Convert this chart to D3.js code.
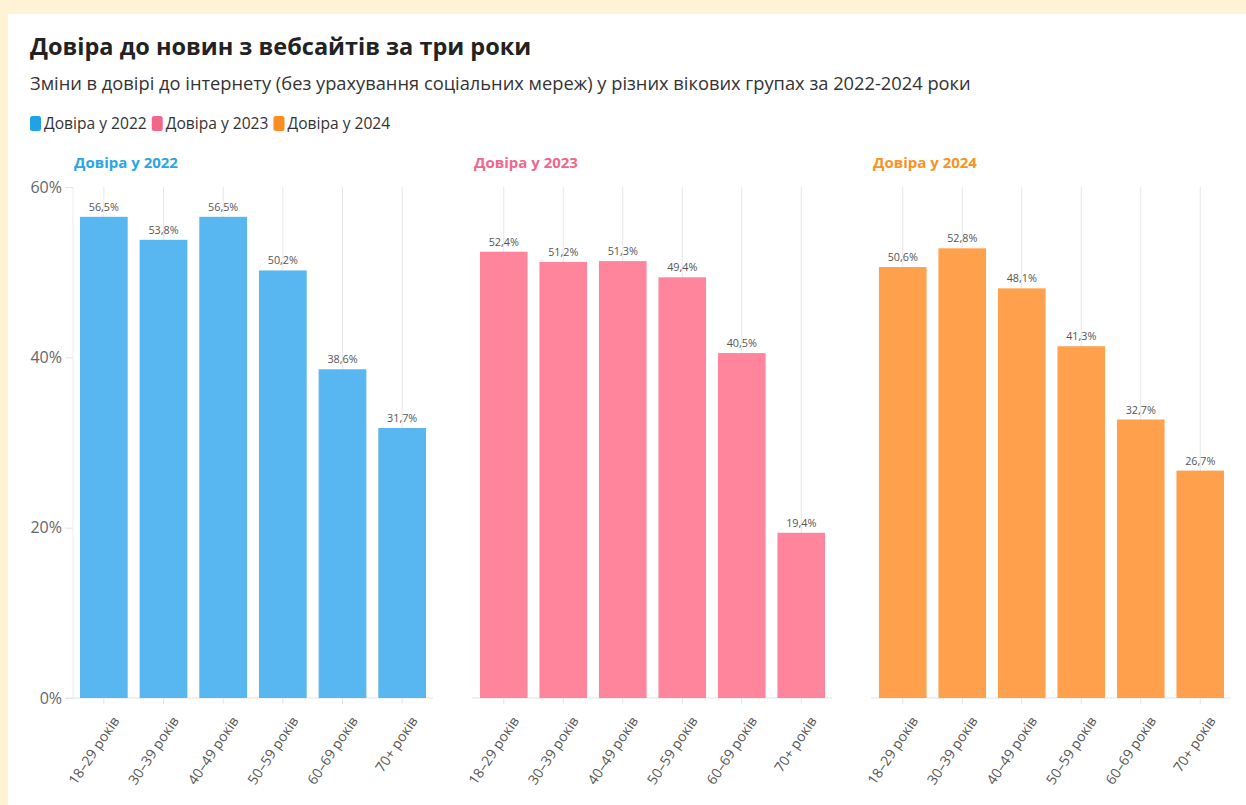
<!DOCTYPE html>
<html>
<head>
<meta charset="utf-8">
<script src="https://cdn.jsdelivr.net/npm/d3@7"></script>
<style>
  body { margin: 0; background: #fff3d6; font-family: "Open Sans", "Noto Sans", sans-serif; }
  #card { position: absolute; left: 8px; top: 14px; width: 1238px; height: 791px; background: #fff; }
</style>
</head>
<body>
<div id="card"></div>
<svg id="chart" width="1246" height="805" style="position:absolute;left:0;top:0"></svg>
<script>
const ageGroups = ["18–29 років", "30–39 років", "40–49 років", "50–59 років", "60–69 років", "70+ років"];
const seriesNames = ["Довіра у 2022", "Довіра у 2023", "Довіра у 2024"];
const trust2022 = [56.5, 53.8, 56.5, 50.2, 38.6, 31.7];
const trust2023 = [52.4, 51.2, 51.3, 49.4, 40.5, 19.4];
const trust2024 = [50.6, 52.8, 48.1, 41.3, 32.7, 26.7];
const yTicks = [0, 20, 40, 60];

const legendColors = ["#1ea3e6", "#f2668a", "#ff8c1f"];
const titleColors = ["#2aa7e2", "#f0668c", "#f7941f"];
const barColors = ["#58b7f0", "#ff859c", "#ffa04c"];
const font = "'Open Sans', 'Noto Sans', sans-serif";

const svg = d3.select("#chart").attr("font-family", font);

svg.append("text")
  .attr("x", 30).attr("y", 55)
  .attr("font-size", 23.5).attr("font-weight", 700).attr("fill", "#222")
  .text("Довіра до новин з вебсайтів за три роки");

svg.append("text")
  .attr("x", 30).attr("y", 90)
  .attr("font-size", 18.3).attr("fill", "#333")
  .text("Зміни в довірі до інтернету (без урахування соціальних мереж) у різних вікових групах за 2022-2024 роки");

// legend
const legend = svg.append("g").attr("transform", "translate(30,116)");
let lx = 0;
seriesNames.forEach((name, i) => {
  const g = legend.append("g").attr("transform", `translate(${lx},0)`);
  g.append("rect").attr("width", 11).attr("height", 15).attr("rx", 2.5).attr("fill", legendColors[i]);
  const t = g.append("text").attr("x", 14).attr("y", 13).attr("font-size", 15.6).attr("fill", "#333").text(name);
  lx += 14 + t.node().getComputedTextLength() + 5;
});

const y = d3.scaleLinear().domain([0, 60]).range([698, 187]);
const panels = [
  { data: trust2022, x0: 74, x1: 432 },
  { data: trust2023, x0: 474, x1: 831 },
  { data: trust2024, x0: 873, x1: 1230 }
];

panels.forEach((p, i) => {
  const x = d3.scaleBand().domain(ageGroups).range([p.x0, p.x1]).paddingInner(0.2).paddingOuter(0.1);
  const g = svg.append("g");

  g.append("text")
    .attr("x", p.x0).attr("y", 168)
    .attr("font-size", 15).attr("font-weight", 700).attr("fill", titleColors[i])
    .text(seriesNames[i]);

  // vertical grid at band centers
  g.selectAll(".grid").data(ageGroups).join("line")
    .attr("x1", d => x(d) + x.bandwidth() / 2).attr("x2", d => x(d) + x.bandwidth() / 2)
    .attr("y1", y(60)).attr("y2", y(0))
    .attr("stroke", "#e6e6e6");

  g.append("line")
    .attr("x1", i === 0 ? 66 : p.x0 - 2).attr("x2", p.x1 + 1)
    .attr("y1", y(0)).attr("y2", y(0))
    .attr("stroke", "#e3e3e3");

  g.selectAll(".bar").data(p.data).join("rect")
    .attr("x", (d, j) => x(ageGroups[j]))
    .attr("width", x.bandwidth())
    .attr("y", d => y(d))
    .attr("height", d => y(0) - y(d))
    .attr("fill", barColors[i]);

  g.selectAll(".val").data(p.data).join("text")
    .attr("x", (d, j) => x(ageGroups[j]) + x.bandwidth() / 2)
    .attr("y", d => y(d) - 6)
    .attr("text-anchor", "middle")
    .attr("font-size", 10.8).attr("fill", "#555")
    .text(d => d3.format(".1f")(d).replace(".", ",") + "%");

  const xAxis = g.append("g")
    .attr("transform", `translate(0,${y(0)})`)
    .call(d3.axisBottom(x).tickSize(6).tickPadding(4));
  xAxis.select(".domain").remove();
  xAxis.selectAll(".tick line").attr("stroke", "#e3e3e3");
  xAxis.selectAll(".tick text")
    .attr("font-family", font)
    .attr("font-size", 14).attr("fill", "#555")
    .attr("text-anchor", "end")
    .attr("x", 0).attr("y", 0)
    .attr("dy", "0.35em")
    .attr("transform", "translate(12,20) rotate(-56)");

  if (i === 0) {
    const yAxis = g.append("g")
      .attr("transform", `translate(${p.x0 - 1},0)`)
      .call(d3.axisLeft(y).tickValues(yTicks).tickSize(8).tickPadding(3).tickFormat(d => d + "%"));
    yAxis.select(".domain").attr("stroke", "#eeeeee").attr("d", `M0,${y(60)}V${y(0)}`);
    yAxis.selectAll(".tick line").attr("stroke", "#e3e3e3");
    yAxis.selectAll(".tick text")
      .attr("font-family", font)
      .attr("font-size", 16).attr("fill", "#666");
  }
});
</script>
</body>
</html>
